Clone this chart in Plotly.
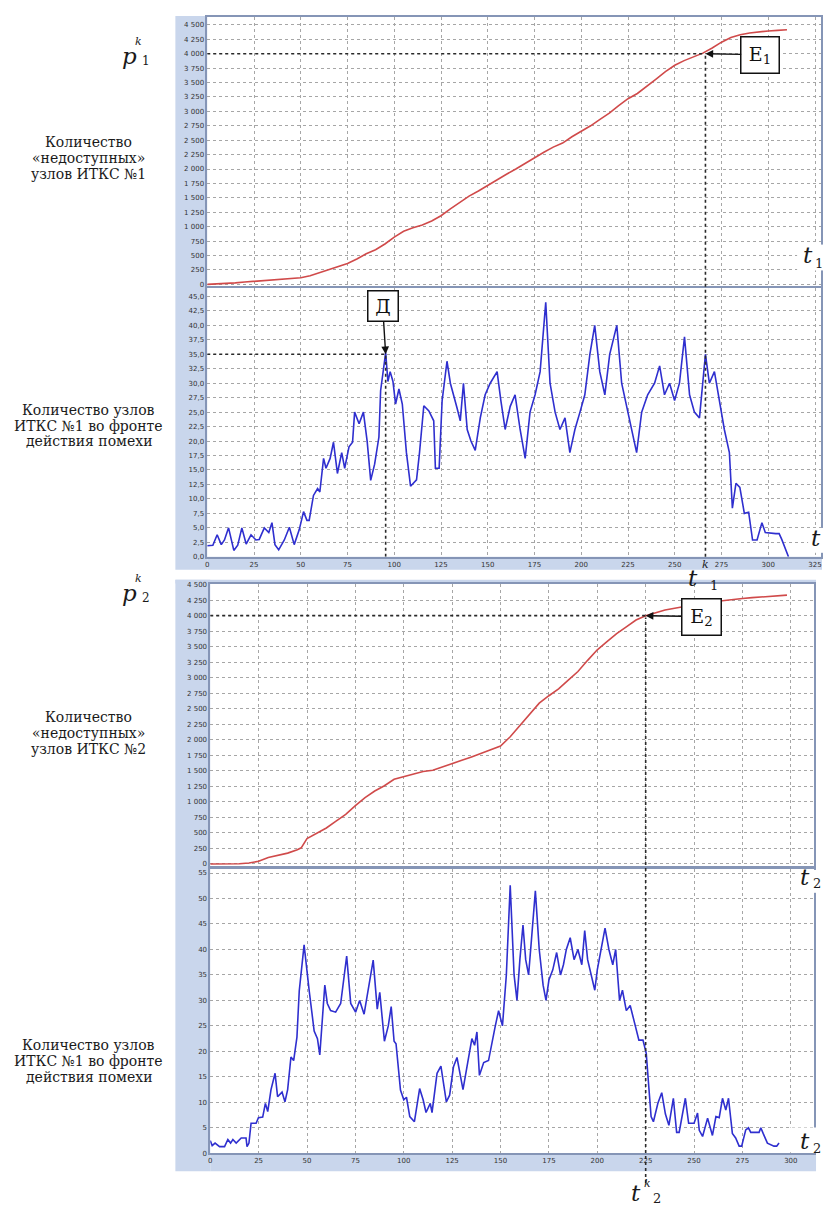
import plotly.graph_objects as go

W, H = 827, 1208
def PX(x): return x / W
def PY(y): return 1 - y / H

# ---------------- DATA ----------------
# Plot 1: unreachable nodes ITKS #1 (red)
t_red1 = [0, 5, 10, 15, 20, 25, 30, 35, 40, 45, 50, 55, 60, 65, 70, 75, 80, 85, 90, 95,
          100, 105, 110, 115, 120, 125, 130, 135, 140, 145, 150, 155, 160, 165, 170, 175,
          180, 185, 190, 195, 200, 205, 210, 215, 220, 225, 230, 235, 240, 245, 250, 255,
          260, 265, 270, 275, 280, 285, 290, 295, 300, 305, 310]
v_red1 = [0, 5, 15, 25, 40, 52, 65, 80, 90, 100, 115, 150, 200, 258, 310, 362, 440, 530, 600, 700,
          820, 920, 980, 1030, 1100, 1190, 1310, 1420, 1530, 1620, 1720, 1810, 1910, 2000, 2100, 2190,
          2290, 2380, 2450, 2560, 2650, 2750, 2860, 2970, 3100, 3220, 3310, 3430, 3560, 3690, 3800, 3880,
          3950, 4010, 4100, 4200, 4280, 4330, 4360, 4380, 4395, 4405, 4415]

# Plot 2: nodes ITKS #1 in the interference front (blue)
t_blue1 = [0, 3, 5.3, 7.5, 9.2, 11.4, 14.2, 16.3, 18.5, 20.8, 23.4, 26, 27.8, 30.5, 32.9, 34.6,
           36.2, 38.2, 41.2, 43.9, 46.5, 49.2, 51.5, 53.3, 54.5, 56.8, 59, 60.2, 62.2, 63.5, 65.7,
           67.5, 69.6, 71.9, 73.5, 75.8, 77.7, 78.8, 81.2, 83.5, 85.5, 87.4, 89.5, 91.8, 92.7, 95.4,
           96.6, 97.8, 99.3, 100.7, 102.5, 104.3, 106.5, 108.7, 111.9, 113.5, 115.8, 118.5, 121.1,
           122, 124, 125.6, 128.2, 130, 133.5, 135.3, 137, 139, 141, 143.3,
           146, 148.6, 151.3, 155, 157, 159.3, 162, 164.6, 167.3, 170, 172.6, 175.3, 178, 181,
           183.3, 186, 188.6, 191.3, 193.9, 196.6, 199.3, 201.9, 204.6, 207.2, 209.9, 212.6, 215.2,
           219, 221.6, 224.8, 227, 229.6, 232.3, 235.5, 239.2, 241.9, 244.5, 247.2, 249.9, 252.5,
           255.2, 257.9, 260.5, 263.2, 266.4, 268.5, 271.2, 273.8, 276.5, 279.2, 280.8, 282.7,
           284.8, 287.2, 289.5, 291.6, 294, 296.6, 298.4, 304, 305.8, 307.2, 308.5, 310.8]
v_blue1 = [1.9, 2, 3.8, 2.1, 2.9, 5.0, 1.1, 2.0, 5.0, 2.2, 3.8, 2.9, 3.0, 5.0, 4.2, 5.9,
           2.1, 1.2, 2.9, 5.1, 2.1, 4.7, 7.8, 6.3, 6.3, 10.6, 11.8, 11.2, 17, 15.3, 17,
           19.8, 14.4, 18, 15.3, 19, 19.8, 25, 23, 25, 20, 13.2, 16, 20.7, 28.7, 35.3,
           30.3, 32, 30.3, 26.4, 29, 26.4, 18, 12.2, 13.3, 18, 26.1, 25.2, 23.5,
           15.3, 15.3, 27, 33.8, 30, 25.8, 23.5, 30, 22, 20, 18.4,
           24, 28, 30, 32, 27, 22, 26, 28, 22, 17, 25, 28, 32, 44,
           30, 25, 22, 24, 18, 22, 25, 28, 35, 40, 32, 28, 35,
           40, 30, 25, 22, 18, 25, 28, 30, 33, 28, 30, 27, 30,
           38, 28, 25, 24, 35, 30, 32, 27, 22, 18, 8.4, 12.7,
           12, 7.5, 7.7, 2.9, 2.9, 5.9, 4.2, 4.0, 4.0, 3.0, 1.8, 0]

# Plot 3: unreachable nodes ITKS #2 (red)
t_red2 = [0, 5, 10, 15, 20, 25, 30, 35, 40, 45, 47, 50, 55, 60, 65, 70, 75, 80, 85, 90, 95,
          100, 105, 110, 115, 120, 125, 130, 135, 140, 145, 150, 155, 160, 165, 170, 175, 180,
          185, 190, 195, 200, 205, 210, 215, 220, 225, 230, 235, 240, 245, 250, 255, 260, 265,
          270, 275, 280, 285, 290, 295, 298]
v_red2 = [0, 0, 0, 3, 15, 43, 105, 140, 175, 230, 260, 410, 490, 580, 690, 800, 940, 1070, 1175,
          1260, 1365, 1410, 1450, 1490, 1510, 1560, 1615, 1670, 1725, 1780, 1835, 1900, 2050, 2235,
          2410, 2590, 2710, 2820, 2960, 3100, 3280, 3450, 3580, 3710, 3820, 3930, 4000, 4050, 4090,
          4120, 4150, 4180, 4205, 4225, 4245, 4260, 4275, 4290, 4300, 4315, 4325, 4330]

# Plot 4: nodes in the interference front, second network (blue)
t_blue2 = [0, 1, 2.5, 4.8, 7.4, 9.1, 10.5, 11.7, 13.4, 16, 18.5, 19, 20, 21.1, 23.7, 24.9, 27.1,
           28.5, 29.7, 31.4, 33.5, 34.8, 37.1, 38.6, 40, 41.7, 43.1, 44.8, 46, 48.5, 51.1, 53.7,
           55.4, 56.6, 59.2, 60.5, 62.2, 64.8, 67.4, 70.5, 72.6, 75.1, 77.2, 79.5, 84.2, 86.3,
           87.6, 89, 90, 92, 93.5, 95, 96, 98.3, 100, 101.4, 103.1, 105.5, 108.2, 110, 111.5,
           113.7, 114.6, 117.2, 119.2, 122, 123.7, 125.7, 127.5, 130.6, 133.5, 135.2, 136.6, 137.8,
           139.1, 141.3, 143.8, 145.5, 147.2, 149, 151, 153, 155, 157, 158.5, 160, 161.6, 163,
           164.5, 166, 168, 170, 172, 173.5, 175, 177, 179, 181, 182.5, 184, 186, 188, 190, 192,
           193.5, 195, 197, 198.7, 200, 202, 204, 206, 208, 209.5, 211.5, 213, 215, 217, 219,
           221.5, 223.6, 225.3, 226.6, 227.8, 229, 231.3, 233.3, 235.2, 237, 239.3, 241, 242.3,
           245.5, 247.2, 250, 251.8, 252.7, 254.4, 257, 259.5, 261.3, 263, 264.7, 266.4, 267.8,
           269.8, 271.5, 273.3, 274.6, 276.7, 278.1, 279.3, 283.6, 284.5, 285.7, 287.9, 291.3,
           292.7, 293.9]
v_blue2 = [2.5, 1.5, 2, 1.3, 1.3, 2.7, 2, 2.7, 2, 3, 3, 1.3, 2, 5.9, 5.9, 7, 7.1,
           9.8, 8.2, 12.5, 15.7, 11.1, 12, 10.1, 12.5, 18.9, 18.2, 22.8, 31.9, 40.9, 32, 24,
           22.5, 19.3, 33, 29.4, 28, 27.7, 29.4, 38.7, 29.4, 27.7, 30, 27.3, 37.9, 28.3,
           31.6, 26, 22, 25, 28.8, 22, 21.5, 12.4, 10.5, 11, 7.2, 6.2, 12.7, 10.5, 8,
           9.8, 8, 15.7, 17.1, 10.1, 11.4, 17, 18.8, 12.5, 18.4, 22.5, 21.2, 23.8,
           15.3, 17.8, 18.2, 21.9, 24.8, 28, 25, 35, 52.6, 35, 30, 38, 44.8, 38,
           35, 42, 51.5, 40, 33, 30, 34, 36, 39.4, 35, 37, 40, 42.3, 38, 40, 37,
           43.7, 38, 35, 32, 36, 40, 44.2, 40, 37, 40, 30, 32, 28, 29, 26,
           22.2, 22.2, 19.6, 13.1, 7.2, 6.2, 9.8, 11.9, 7.7, 5.5, 10.8, 4.1, 4.1,
           10.8, 5.9, 5.9, 7.9, 4.5, 3.3, 6.9, 3.5, 7.2, 7, 10.8, 8.5, 10.8,
           3.9, 3, 1.4, 1.4, 4.6, 5, 4.1, 4.1, 5, 3.9, 2, 1.4,
           1.4, 2]

# Tick values / labels
y_red_ticks = list(range(0, 4501, 250))
y_red_text = [f"{v:,}".replace(",", " ") for v in y_red_ticks]
y_blue1_ticks = [i * 2.5 for i in range(19)]
y_blue1_text = [f"{v:.1f}".replace(".", ",") for v in y_blue1_ticks]
y_blue2_ticks = list(range(0, 56, 5))
x_ticks1 = list(range(0, 326, 25))
x_ticks2 = list(range(0, 301, 25))

# Marked points
t_E1, p_E1 = 266.4, 4000
t_D, v_D = 95.4, 35
t_E2, p_E2 = 225, 4000

# ---------------- STYLE ----------------
RED = "#d04a4a"
BLUE = "#2f2fcf"
STRIP = "#c9d6ec"
FRAME = "#8595b6"
GRID = "#a6a6a6"
TICKFONT = dict(family="DejaVu Sans", size=7, color="#333333")
SERIF = "DejaVu Serif"

fig = go.Figure()
fig.add_trace(go.Scatter(x=t_red1, y=v_red1, xaxis="x", yaxis="y", mode="lines",
                         line=dict(color=RED, width=1.6), showlegend=False))
fig.add_trace(go.Scatter(x=t_blue1, y=v_blue1, xaxis="x2", yaxis="y2", mode="lines",
                         line=dict(color=BLUE, width=1.6), showlegend=False))
fig.add_trace(go.Scatter(x=t_red2, y=v_red2, xaxis="x3", yaxis="y3", mode="lines",
                         line=dict(color=RED, width=1.6), showlegend=False))
fig.add_trace(go.Scatter(x=t_blue2, y=v_blue2, xaxis="x4", yaxis="y4", mode="lines",
                         line=dict(color=BLUE, width=1.6), showlegend=False))

def axis(**kw):
    d = dict(showline=True, linecolor=FRAME, linewidth=1.5, mirror=True,
             showgrid=True, gridcolor=GRID, griddash="dot", gridwidth=1,
             zeroline=False, ticks="", tickfont=TICKFONT, fixedrange=True)
    d.update(kw)
    return d

XD1 = [PX(206), PX(822)]
XD2 = [PX(209), PX(815)]
fig.update_layout(
    width=W, height=H, margin=dict(l=0, r=0, t=0, b=0),
    paper_bgcolor="white", plot_bgcolor="white", showlegend=False,
    xaxis=axis(domain=XD1, anchor="y", range=[0, 328.2], tickvals=x_ticks1, showticklabels=False),
    yaxis=axis(domain=[PY(285), PY(14)], anchor="x", range=[-34.5, 4638],
               tickvals=y_red_ticks, ticktext=y_red_text),
    xaxis2=axis(domain=XD1, anchor="y2", range=[0, 328.2], tickvals=x_ticks1,
                ticktext=[str(v) for v in x_ticks1]),
    yaxis2=axis(domain=[PY(557), PY(287)], anchor="x2", range=[0, 46.4],
                tickvals=y_blue1_ticks, ticktext=y_blue1_text),
    xaxis3=axis(domain=XD2, anchor="y3", range=[0, 312], tickvals=x_ticks2, showticklabels=False),
    yaxis3=axis(domain=[PY(868), PY(584)], anchor="x3", range=[-32, 4516],
                tickvals=y_red_ticks, ticktext=y_red_text),
    xaxis4=axis(domain=XD2, anchor="y4", range=[0, 312], tickvals=x_ticks2,
                ticktext=[str(v) for v in x_ticks2]),
    yaxis4=axis(domain=[PY(1157), PY(871)], anchor="x4", range=[0, 55.8],
                tickvals=y_blue2_ticks, ticktext=[str(v) for v in y_blue2_ticks]),
)

shapes = []
def prect(x0, y0, x1, y1, color, layer="below"):
    shapes.append(dict(type="rect", xref="paper", yref="paper", x0=PX(x0), x1=PX(x1),
                       y0=PY(y1), y1=PY(y0), fillcolor=color, line=dict(width=0), layer=layer))

# blue frames around the plot stacks
prect(174, 13, 206, 570, STRIP)
prect(206, 557, 823, 570, STRIP)
prect(174, 580, 209, 1175, STRIP)
prect(174, 580, 817, 584, STRIP)
prect(209, 1157, 817, 1175, STRIP)

DOT = dict(color="#2a2a2a", width=1.6, dash="dot")
# E1 guide lines
shapes.append(dict(type="line", xref="x", yref="y", x0=0, x1=t_E1, y0=p_E1, y1=p_E1, line=DOT))
shapes.append(dict(type="line", xref="x", yref="paper", x0=t_E1, x1=t_E1, y0=PY(557), y1=PY(50), line=DOT))
# D guide lines
shapes.append(dict(type="line", xref="x2", yref="y2", x0=0, x1=t_D, y0=v_D, y1=v_D, line=DOT))
shapes.append(dict(type="line", xref="x2", yref="y2", x0=t_D, x1=t_D, y0=0, y1=v_D, line=DOT))
# E2 guide lines
shapes.append(dict(type="line", xref="x3", yref="y3", x0=0, x1=t_E2, y0=p_E2, y1=p_E2, line=DOT))
shapes.append(dict(type="line", xref="x3", yref="paper", x0=t_E2, x1=t_E2, y0=PY(1187), y1=PY(618), line=DOT))

# white patches behind the t labels at the right edge
prect(798, 243, 827, 269, "white", "above")
prect(809, 528, 827, 553, "white", "above")
prect(797, 872, 827, 895, "white", "above")
prect(790, 1131, 827, 1156, "white", "above")
fig.update_layout(shapes=shapes)

ann = []
def txt(x, y, s, size, italic=False, family=SERIF, color="#1a1a1a"):
    if italic:
        s = "<i>" + s + "</i>"
    ann.append(dict(x=PX(x), y=PY(y), xref="paper", yref="paper", text=s, showarrow=False,
                    xanchor="center", yanchor="middle", font=dict(family=family, size=size, color=color)))

# left descriptive labels
LBL = 14
for y, s in [(140, "Количество"), (156, "«недоступных»"), (172, "узлов ИТКС №1")]:
    txt(87, y, s, LBL)
for y, s in [(409, "Количество узлов"), (425, "ИТКС №1 во фронте"), (441, "действия помехи")]:
    txt(87, y, s, LBL)
for y, s in [(718, "Количество"), (734, "«недоступных»"), (750, "узлов ИТКС №2")]:
    txt(87, y, s, LBL)
for y, s in [(1048, "Количество узлов"), (1064, "ИТКС №1 во фронте"), (1080, "действия помехи")]:
    txt(87, y, s, LBL)

# p^k_1, p^k_2
for yb, sub in [(53, "1"), (593, "2")]:
    txt(128, yb, "p", 23, italic=True)
    txt(137, yb - 14, "k", 11, italic=True)
    txt(145, yb + 5, sub, 12)

# t labels
txt(809, 253, "t", 23, italic=True); txt(820, 262, "1", 13)
txt(817, 538, "t", 23, italic=True)
txt(806, 879, "t", 23, italic=True); txt(818, 886, "2", 13)
txt(806, 1145, "t", 23, italic=True); txt(818, 1152, "2", 13)
# t^k_1, t^k_2
txt(694, 578, "t", 23, italic=True); txt(706, 565, "k", 11, italic=True); txt(715, 586, "1", 13)
txt(636, 1197, "t", 23, italic=True); txt(648, 1187, "k", 11, italic=True); txt(657, 1202, "2", 13)

# boxed markers with arrows
box = dict(showarrow=True, arrowhead=2, arrowsize=1.1, arrowwidth=1.4, arrowcolor="#111",
           bordercolor="#111", borderwidth=1.5, borderpad=0, bgcolor="white",
           font=dict(family=SERIF, size=19, color="#111"), standoff=0)
ann.append(dict(x=t_E1, y=p_E1, xref="x", yref="y", text="E<sub>1</sub>", ax=55, ay=1,
                width=37, height=35, **box))
ann.append(dict(x=t_D, y=v_D, xref="x2", yref="y2", text="Д", ax=-3, ay=-48,
                width=29, height=29, **box))
ann.append(dict(x=t_E2, y=p_E2, xref="x3", yref="y3", text="E<sub>2</sub>", ax=56, ay=1,
                width=38, height=35, **box))

fig.update_layout(annotations=ann)
fig.write_html("out.html", config={"displayModeBar": False},
               post_script="document.body.style.margin='0px';")
